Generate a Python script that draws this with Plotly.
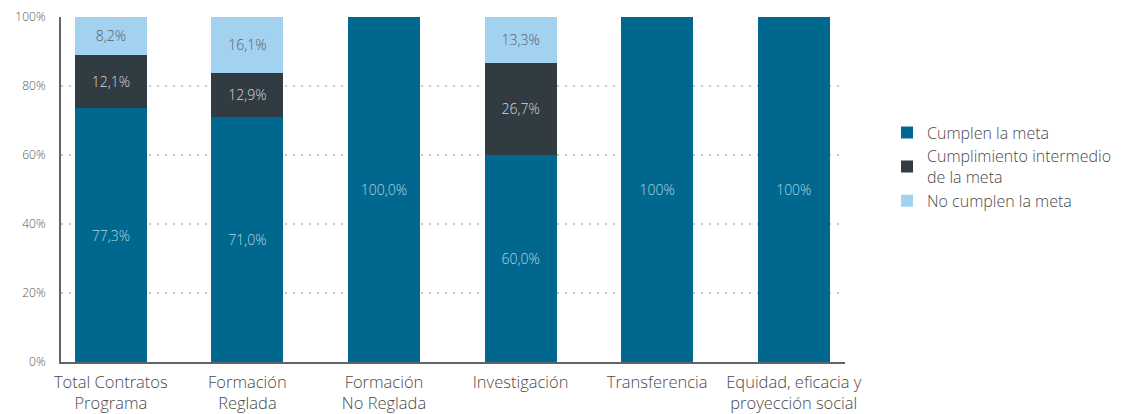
import plotly.graph_objects as go

categories = ["Total Contratos<br>Programa", "Formación<br>Reglada", "Formación<br>No Reglada",
              "Investigación", "Transferencia", "Equidad, eficacia y<br>proyección social"]

# bar segment heights as drawn in the picture (%)
cumplen = [73.6, 71.0, 100.0, 60.0, 100.0, 100.0]
intermedio = [15.4, 12.9, None, 26.7, None, None]
no_cumplen = [11.0, 16.1, None, 13.3, None, None]

# labels as printed in the picture
cumplen_txt = ["77,3%", "71,0%", "100,0%", "60,0%", "100%", "100%"]
intermedio_txt = ["12,1%", "12,9%", "", "26,7%", "", ""]
no_cumplen_txt = ["8,2%", "16,1%", "", "13,3%", "", ""]

series_names = ["Cumplen la meta", "Cumplimiento intermedio<br>de la meta", "No cumplen la meta"]
colors = ["#00688f", "#313b42", "#a3d2f1"]
text_colors = ["#b3d3e3", "#d6d9dc", "#56606a"]

y_ticks = [0, 20, 40, 60, 80, 100]
y_tick_labels = ["0%", "20%", "40%", "60%", "80%", "100%"]

FONT = "'Open Sans', Lato, sans-serif"

fig = go.Figure()
for i, (vals, txt, name, col, tcol) in enumerate(zip([cumplen, intermedio, no_cumplen],
                                                     [cumplen_txt, intermedio_txt, no_cumplen_txt],
                                                     series_names, colors, text_colors)):
    fig.add_trace(go.Bar(
        x=list(range(len(categories))), y=vals, name=name, legendgroup=f"g{i}",
        marker=dict(color=col, line=dict(width=0)),
        text=txt, textposition="inside", insidetextanchor="middle",
        textfont=dict(color=tcol, size=14, family=FONT, weight=300),
        width=0.527, hoverinfo="skip",
    ))

# page body has an 8px margin: figure is sized/offset to compensate
fig.update_layout(
    width=1115, height=406,
    margin=dict(l=53, r=278, t=9, b=52, autoexpand=False),
    barmode="stack",
    plot_bgcolor="white", paper_bgcolor="white",
    font=dict(family=FONT, color="#4a4a4a", weight=300),
    uniformtext=dict(minsize=8, mode="show"),
    legend=dict(
        x=1.0536, y=0.7145, xanchor="left", yanchor="top",
        traceorder="normal", font=dict(size=16, color="#4a4a4a", family=FONT, weight=300),
        itemwidth=30, tracegroupgap=5, bgcolor="rgba(0,0,0,0)",
    ),
    showlegend=True,
)

fig.update_xaxes(
    range=[-0.3646, 5.375],
    tickmode="array", tickvals=list(range(len(categories))), ticktext=categories,
    tickfont=dict(size=16.5, color="#4a4a4a", family=FONT, weight=300),
    showline=True, linecolor="#5e666c", linewidth=2,
    showgrid=False, ticks="", zeroline=False, ticklabelstandoff=4,
    automargin=False,
)
fig.update_yaxes(
    range=[0, 100],
    tickmode="array", tickvals=y_ticks, ticktext=y_tick_labels,
    tickfont=dict(size=12, color="#555555", family=FONT, weight=300),
    showline=True, linecolor="#5e666c", linewidth=2,
    showgrid=True, gridcolor="#c6c6c6", gridwidth=2, griddash="2px,6px",
    ticks="", zeroline=False, ticklabelstandoff=11, automargin=False,
)

fig.write_html("out.html")
